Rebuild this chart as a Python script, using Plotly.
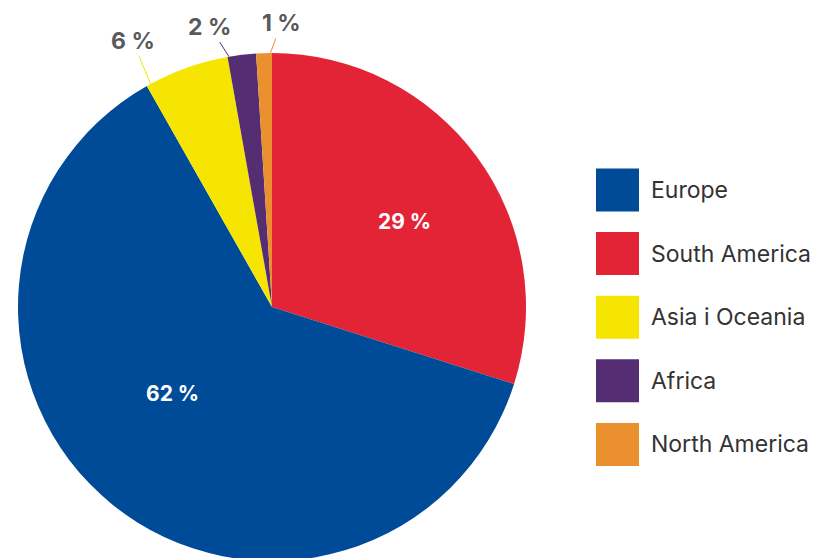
import math
import plotly.graph_objects as go

# ---- data ----
regions = ["Europe", "South America", "Asia i Oceania", "Africa", "North America"]
shares = [61.9, 29.9, 5.4, 1.8, 1.0]
share_labels = ["62 %", "29 %", "6 %", "2 %", "1 %"]
colors = ["#004B98", "#E32336", "#F6E500", "#552D73", "#EB902E"]
# clockwise order of the slices from 12 o'clock (indices into the lists above)
pie_order = [1, 0, 2, 3, 4]

# ---- layout constants (page body has an 8px offset) ----
W, H = 818, 558
OFF = 8
M_T, M_B, M_L, M_R = 45, 5, 0, 0
PIE_DOM_X = 0.6455
FONT = "Inter, Roboto, sans-serif"

inside = [True, True, False, False, False]
# label placement: fraction along the slice's arc, fraction of radius (inside labels)
anchor_frac = [0.545, 0.53, 0.05, 0.05, 0.9]
radius_frac = [0.52, 0.62, 1.0, 1.0, 1.0]
label_offset = [None, None, (-18, -43), (-19, -30), (11, -30)]

p_labels = [regions[i] for i in pie_order]
p_values = [shares[i] for i in pie_order]
p_colors = [colors[i] for i in pie_order]

fig = go.Figure()
fig.add_trace(go.Pie(
    labels=p_labels,
    values=p_values,
    textinfo="none",
    marker=dict(colors=p_colors, line=dict(width=0)),
    sort=False,
    direction="clockwise",
    rotation=0,
    showlegend=False,
    domain=dict(x=[0, PIE_DOM_X], y=[0, 1]),
    hoverinfo="label+percent",
))

plot_w = W - M_L - M_R
plot_h = H - M_T - M_B
radius_px = min(plot_w * PIE_DOM_X, plot_h) / 2
cx = PIE_DOM_X / 2
cy = 0.5
total = sum(shares)

annotations = []
shapes = []
cum = 0.0
for i in pie_order:
    span = shares[i] / total * 360.0
    ang = math.radians(cum + anchor_frac[i] * span)
    r = radius_px * radius_frac[i]
    px = cx + r * math.sin(ang) / plot_w
    py = cy + r * math.cos(ang) / plot_h
    if inside[i]:
        annotations.append(dict(
            x=px, y=py, xref="paper", yref="paper",
            xanchor="center", yanchor="middle",
            text="<b>" + share_labels[i] + "</b>", showarrow=False,
            font=dict(family=FONT, size=21, color="white"),
        ))
    else:
        ax, ay = label_offset[i]
        annotations.append(dict(
            x=px, y=py, xref="paper", yref="paper",
            text="<b>" + share_labels[i] + "</b>",
            showarrow=True, arrowhead=0, arrowwidth=1, arrowcolor=colors[i],
            ax=ax, ay=ay, standoff=0, startstandoff=0,
            font=dict(family=FONT, size=23, color="#58595B"),
        ))
    cum += span

# ---- manual legend with large swatches (legend order) ----
LEG_X0, LEG_X1, LEG_TXT_X = 596 - OFF, 639 - OFF, 649 - OFF
LEG_Y0, LEG_STEP, SW = 190 - OFF, 63.6, 43
for i, (name, col) in enumerate(zip(regions, colors)):
    yc = LEG_Y0 + i * LEG_STEP
    shapes.append(dict(
        type="rect", xref="paper", yref="paper",
        x0=(LEG_X0 - M_L) / plot_w, x1=(LEG_X1 - M_L) / plot_w,
        y0=(H - M_B - (yc + SW / 2)) / plot_h, y1=(H - M_B - (yc - SW / 2)) / plot_h,
        fillcolor=col, line=dict(width=0),
    ))
    annotations.append(dict(
        x=(LEG_TXT_X - M_L) / plot_w, y=(H - M_B - yc) / plot_h,
        xref="paper", yref="paper", xanchor="left", yanchor="middle",
        text=name, showarrow=False,
        font=dict(family=FONT, size=23, color="#333333"),
    ))

fig.update_layout(
    width=W, height=H,
    margin=dict(l=M_L, r=M_R, t=M_T, b=M_B),
    paper_bgcolor="white", plot_bgcolor="white",
    annotations=annotations, shapes=shapes,
    showlegend=False,
)
fig.write_html("out.html")
